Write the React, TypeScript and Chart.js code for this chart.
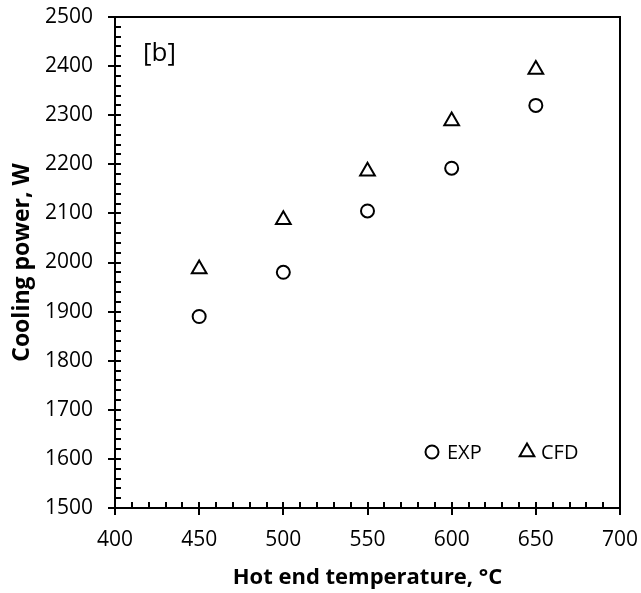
import React, { useEffect, useRef } from "react";
import { Chart, registerables } from "chart.js";

Chart.register(...registerables);

const temperatures = [450, 500, 550, 600, 650];
const expPower = [1890, 1980, 2105, 2192, 2320];
const cfdPower = [1987, 2087, 2186, 2288, 2393];
const xRange = [400, 700];
const yRange = [1500, 2500];
const xMajorStep = 50;
const xMinorStep = 10;
const yMajorStep = 100;
const yMinorStep = 20;
const seriesNames = ["EXP", "CFD"];
const xTitle = "Hot end temperature, °C";
const yTitle = "Cooling power, W";
const panelLabel = "[b]";

const FONT = "'Open Sans', 'Noto Sans', sans-serif";

const framePlugin = {
  id: "frame",
  afterDraw(chart: any) {
    const { ctx, chartArea, scales } = chart;
    const { left, right, top, bottom } = chartArea;
    const x = scales.x;
    const y = scales.y;
    ctx.save();
    ctx.strokeStyle = "#000";
    ctx.lineWidth = 2;
    ctx.strokeRect(left, top, right - left, bottom - top);
    for (let v = yRange[0]; v <= yRange[1]; v += yMinorStep) {
      const py = Math.round(y.getPixelForValue(v));
      const major = v % yMajorStep === 0;
      ctx.beginPath();
      ctx.moveTo(major ? left - 7 : left, py);
      ctx.lineTo(left + 6, py);
      ctx.stroke();
    }
    for (let v = xRange[0]; v <= xRange[1]; v += xMinorStep) {
      const px = Math.round(x.getPixelForValue(v));
      const major = v % xMajorStep === 0;
      ctx.beginPath();
      ctx.moveTo(px, major ? bottom + 7 : bottom);
      ctx.lineTo(px, bottom - 6);
      ctx.stroke();
    }
    // panel label
    ctx.fillStyle = "#000";
    ctx.font = `26px ${FONT}`;
    ctx.textAlign = "left";
    ctx.textBaseline = "middle";
    ctx.fillText(panelLabel, left + 28, top + 37);
    // legend
    const ly = top + 435;
    ctx.lineWidth = 2;
    ctx.beginPath();
    ctx.arc(left + 317, ly, 6.5, 0, Math.PI * 2);
    ctx.stroke();
    const tx = left + 412;
    const r = 8.5;
    ctx.beginPath();
    ctx.moveTo(tx, ly - r);
    ctx.lineTo(tx + r * Math.sin((2 * Math.PI) / 3), ly - r * Math.cos((2 * Math.PI) / 3));
    ctx.lineTo(tx + r * Math.sin((4 * Math.PI) / 3), ly - r * Math.cos((4 * Math.PI) / 3));
    ctx.closePath();
    ctx.stroke();
    ctx.font = `20px ${FONT}`;
    ctx.fillText(seriesNames[0], left + 332, ly + 1);
    ctx.fillText(seriesNames[1], left + 426, ly + 1);
    ctx.restore();
  },
};

export default function App() {
  const ref = useRef<HTMLCanvasElement>(null);
  useEffect(() => {
    if (!ref.current) return;
    const chart = new Chart(ref.current, {
      type: "scatter",
      data: {
        datasets: [
          {
            label: seriesNames[0],
            data: temperatures.map((t, i) => ({ x: t, y: expPower[i] })),
            pointStyle: "circle",
            pointRadius: 6.5,
            pointBorderWidth: 2,
            borderColor: "#000",
            backgroundColor: "rgba(0,0,0,0)",
            pointBackgroundColor: "rgba(0,0,0,0)",
            pointBorderColor: "#000",
          },
          {
            label: seriesNames[1],
            data: temperatures.map((t, i) => ({ x: t, y: cfdPower[i] })),
            pointStyle: "triangle",
            pointRadius: 8.5,
            pointBorderWidth: 2,
            borderColor: "#000",
            backgroundColor: "rgba(0,0,0,0)",
            pointBackgroundColor: "rgba(0,0,0,0)",
            pointBorderColor: "#000",
          },
        ],
      },
      options: {
        animation: false,
        responsive: false,
        devicePixelRatio: 1,
        layout: { padding: { top: 17, right: 21, left: 0, bottom: 0 } },
        plugins: { legend: { display: false }, tooltip: { enabled: false } },
        scales: {
          x: {
            type: "linear",
            min: xRange[0],
            max: xRange[1],
            grid: { display: false, drawTicks: false },
            border: { display: false },
            ticks: {
              stepSize: xMajorStep,
              padding: 19,
              color: "#000",
              font: { family: FONT, size: 21 },
              maxRotation: 0,
              callback: (v: any) => String(v),
            },
            title: {
              display: true,
              text: xTitle,
              color: "#000",
              font: { family: FONT, size: 22, weight: "bold" },
              padding: { top: 0, bottom: 2 },
            },
            afterFit(scale: any) {
              scale.height = 85;
              scale.paddingLeft = 0;
              scale.paddingRight = 0;
            },
          },
          y: {
            type: "linear",
            min: yRange[0],
            max: yRange[1],
            grid: { display: false, drawTicks: false },
            border: { display: false },
            ticks: {
              stepSize: yMajorStep,
              padding: 22,
              color: "#000",
              font: { family: FONT, size: 21 },
              callback: (v: any) => String(v),
            },
            title: {
              display: true,
              text: yTitle,
              color: "#000",
              font: { family: FONT, size: 23, weight: "bold" },
              padding: { top: 9, bottom: 0 },
            },
            afterFit(scale: any) {
              scale.width = 115;
              scale.paddingTop = 0;
              scale.paddingBottom = 0;
            },
          },
        },
      },
      plugins: [framePlugin],
    });
    return () => chart.destroy();
  }, []);
  return (
    <div style={{ position: "fixed", left: 0, top: 0, width: 641, height: 593, background: "#fff" }}>
      <canvas ref={ref} width={641} height={593} />
    </div>
  );
}
